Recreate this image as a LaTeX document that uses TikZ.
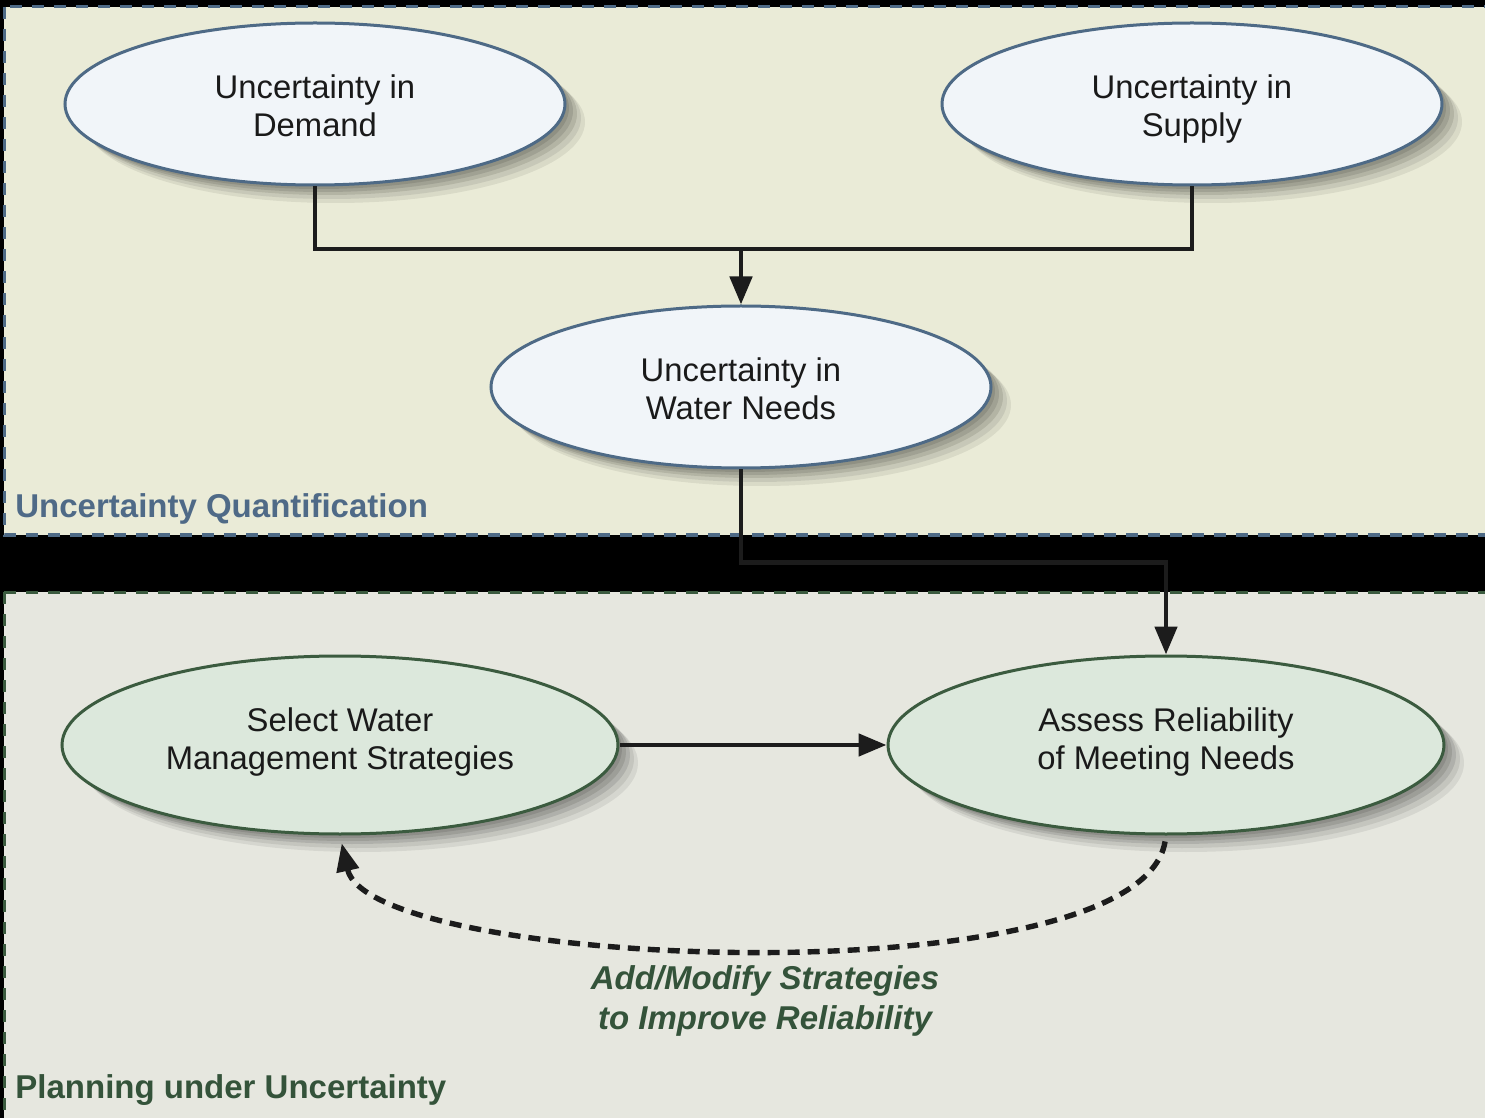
\documentclass[tikz,border=0pt]{standalone}
\usepackage{fontspec}
\setmainfont{Liberation Sans}
\usetikzlibrary{shapes.geometric,arrows.meta,shadows}
\definecolor{topfill}{HTML}{EAEBD7}
\definecolor{botfill}{HTML}{E6E7DF}
\definecolor{topline}{HTML}{4E6A86}
\definecolor{botline}{HTML}{3B5B3F}
\definecolor{topell}{HTML}{F1F5F9}
\definecolor{botell}{HTML}{DCE8DC}
\definecolor{toplabel}{HTML}{4F6A87}
\definecolor{botlabel}{HTML}{34533A}
\definecolor{txt}{HTML}{1A1A1A}
\definecolor{conncol}{HTML}{1C1C1C}
% struts that fix the baselines inside the ellipses
\newcommand\tha{\rule{0pt}{18pt}}
\newcommand\tda{\rule[-4pt]{0pt}{4pt}}
\newcommand\thb{\rule{0pt}{12pt}}
\newcommand\tdb{\rule[-7pt]{0pt}{7pt}}
\tikzset{
  panelbox/.style={line width=1.5pt,dash pattern=on 6pt off 5pt},
  softshadow/.style={
    drop shadow={shadow xshift=2pt,shadow yshift=-2pt,opacity=0.10,fill=black},
    drop shadow={shadow xshift=4pt,shadow yshift=-3.5pt,opacity=0.10,fill=black},
    drop shadow={shadow xshift=6pt,shadow yshift=-5pt,opacity=0.10,fill=black},
    drop shadow={shadow xshift=8pt,shadow yshift=-7pt,opacity=0.08,fill=black},
    drop shadow={shadow xshift=10pt,shadow yshift=-9pt,opacity=0.07,fill=black}},
  ellbase/.style={ellipse,inner sep=0pt,line width=1.5pt,softshadow,
    align=center,text=txt,font=\fontsize{16.4}{19}\selectfont},
  topellipse/.style={ellbase,draw=topline,fill=topell,minimum width=250pt,minimum height=81pt},
  botellipse/.style={ellbase,draw=botline,fill=botell,minimum width=278pt,minimum height=89pt},
  conn/.style={draw=conncol,line width=2.4pt},
  tip/.style={-{Triangle[length=14pt,width=11pt]}},
  regionlabel/.style={anchor=base west,inner sep=0pt,font=\fontsize{16.5}{19}\selectfont\bfseries}
}
\begin{document}
\begin{tikzpicture}[x=0.5pt,y=-0.5pt]
\useasboundingbox (0,0) rectangle (1485,1118);
\clip (0,0) rectangle (1485,1118);
\fill[black] (0,0) rectangle (1485,1118);
% panels
\path[panelbox,draw=topline,fill=topfill] (4,7) rectangle (1520,535);
\path[panelbox,draw=botline,fill=botfill] (4,592) rectangle (1520,1150);
% nodes
\node[topellipse] (dem) at (315,104) {\tha Uncertainty in\\Demand\tda};
\node[topellipse] (sup) at (1192,104) {\tha Uncertainty in\\Supply\tda};
\node[topellipse] (wat) at (741,387) {\tha Uncertainty in\\Water Needs\tda};
\node[botellipse] (sel) at (340,745) {\thb Select Water\\Management Strategies\tdb};
\node[botellipse] (asr) at (1166,745) {\thb Assess Reliability\\of Meeting Needs\tdb};
\node[regionlabel,text=toplabel] (uq) at (15,517) {Uncertainty Quantification};
\node[regionlabel,text=botlabel] (pu) at (15,1098) {Planning under Uncertainty};
\node[align=center,inner sep=0pt,text=botlabel,
  font=\fontsize{16.5}{20}\selectfont\bfseries\itshape] (fb) at (765,1001)
  {Add/Modify Strategies\\to Improve Reliability};
% connectors
\coordinate (jn) at (741,249);
\draw[conn] (dem.south) |- (jn) -| (sup.south);
\draw[conn,tip] (jn) -- (wat.north);
\draw[conn,tip] (wat.south) -- ++(0,93) -| (asr.north);
\draw[conn,tip] (sel.east) -- (asr.west);
\draw[draw=conncol,line width=2.7pt,dash pattern=on 6pt off 4pt,tip,shorten >=4pt,shorten <=3pt]
  (asr.south) .. controls (1140,1000) and (370,970) .. (sel.south);
\end{tikzpicture}
\end{document}
